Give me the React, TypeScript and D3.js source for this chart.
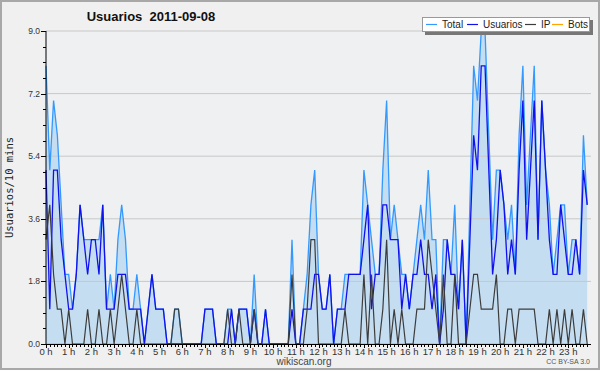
import * as d3 from "d3";

// Valores cada 10 minutos (144 puntos, 0h - 23h50)
const TOTAL = [
  8, 5, 7, 6, 4, 2, 2, 1, 2, 4, 3, 3, 3, 3, 3, 4, 1, 2, 1, 3, 4, 3, 1, 1,
  2, 1, 0, 1, 2, 1, 1, 1, 0, 0, 1, 1, 0, 0, 0, 0, 0, 0, 1, 1, 1, 0, 0, 0,
  1, 1, 0, 1, 1, 1, 0, 2, 0, 0, 1, 0, 0, 0, 0, 0, 0, 3, 0, 0, 1, 2, 4, 5,
  2, 1, 1, 2, 0, 1, 1, 2, 2, 2, 2, 2, 5, 4, 3, 2, 2, 5, 7, 3, 4, 3, 2, 2,
  1, 2, 3, 4, 3, 5, 3, 3, 0, 3, 3, 2, 4, 1, 3, 0, 4, 8, 7, 9, 9, 6, 3, 5,
  5, 4, 3, 4, 2, 6, 8, 4, 6, 8, 3, 7, 5, 4, 2, 3, 4, 4, 2, 3, 3, 2, 6, 4
];

const USUARIOS = [
  5, 1, 5, 5, 3, 2, 1, 1, 2, 4, 3, 2, 3, 3, 2, 4, 1, 1, 1, 2, 2, 2, 1, 1,
  1, 1, 0, 1, 2, 1, 1, 1, 0, 0, 0, 0, 0, 0, 0, 0, 0, 0, 1, 1, 1, 0, 0, 0,
  0, 1, 0, 1, 1, 1, 0, 1, 0, 0, 1, 0, 0, 0, 0, 0, 0, 1, 0, 0, 1, 1, 1, 2,
  2, 1, 1, 2, 0, 1, 1, 1, 2, 2, 2, 2, 3, 4, 1, 2, 2, 4, 4, 3, 3, 3, 1, 2,
  1, 2, 2, 3, 2, 2, 1, 2, 0, 1, 3, 2, 2, 1, 3, 0, 3, 6, 5, 8, 8, 5, 2, 3,
  5, 4, 2, 3, 2, 5, 7, 3, 5, 7, 3, 7, 5, 3, 2, 2, 4, 3, 2, 2, 3, 2, 5, 4
];

const IP = [
  3, 4, 2, 1, 1, 0, 1, 0, 0, 0, 0, 1, 0, 0, 1, 0, 0, 1, 0, 1, 2, 1, 0, 0,
  1, 0, 0, 0, 0, 0, 0, 0, 0, 0, 1, 1, 0, 0, 0, 0, 0, 0, 0, 0, 0, 0, 0, 0,
  1, 0, 0, 1, 0, 0, 0, 1, 0, 0, 0, 0, 0, 0, 0, 0, 0, 2, 0, 0, 0, 1, 3, 3,
  0, 0, 0, 0, 0, 0, 0, 1, 0, 0, 0, 0, 2, 0, 2, 0, 0, 1, 3, 0, 1, 0, 1, 0,
  0, 0, 1, 1, 1, 3, 2, 1, 0, 2, 0, 0, 2, 0, 0, 0, 1, 2, 2, 1, 1, 1, 1, 2,
  0, 0, 1, 1, 0, 1, 1, 1, 1, 1, 0, 0, 0, 1, 0, 1, 0, 1, 0, 1, 0, 0, 1, 0
];

const BOTS = [
  0, 0, 0, 0, 0, 0, 0, 0, 0, 0, 0, 0, 0, 0, 0, 0, 0, 0, 0, 0, 0, 0, 0, 0,
  0, 0, 0, 0, 0, 0, 0, 0, 0, 0, 0, 0, 0, 0, 0, 0, 0, 0, 0, 0, 0, 0, 0, 0,
  0, 0, 0, 0, 0, 0, 0, 0, 0, 0, 0, 0, 0, 0, 0, 0, 0, 0, 0, 0, 0, 0, 0, 0,
  0, 0, 0, 0, 0, 0, 0, 0, 0, 0, 0, 0, 0, 0, 0, 0, 0, 0, 0, 0, 0, 0, 0, 0,
  0, 0, 0, 0, 0, 0, 0, 0, 0, 0, 0, 0, 0, 0, 0, 0, 0, 0, 0, 0, 0, 0, 0, 0,
  0, 0, 0, 0, 0, 0, 0, 0, 0, 0, 0, 0, 0, 0, 0, 0, 0, 0, 0, 0, 0, 0, 0, 0
];

const HORAS = [
  "0 h", "1 h", "2 h", "3 h", "4 h", "5 h", "6 h", "7 h", "8 h", "9 h", "10 h", "11 h",
  "12 h", "13 h", "14 h", "15 h", "16 h", "17 h", "18 h", "19 h", "20 h", "21 h", "22 h", "23 h"
];

const Y_TICKS = [0, 1.8, 3.6, 5.4, 7.2, 9.0];

const SERIES = [
  { nombre: "Total", color: "#3399ff" },
  { nombre: "Usuarios", color: "#1111ee" },
  { nombre: "IP", color: "#3c3c3c" },
  { nombre: "Bots", color: "#ffa500" }
];

const W = 600;
const H = 370;
const margin = { left: 46, right: 9, top: 31, bottom: 26 };

export default function App() {
  const x0 = margin.left;
  const x1 = W - margin.right;
  const y0 = H - margin.bottom;
  const y1 = margin.top;

  const x = d3.scaleLinear().domain([0, 144]).range([x0, x1]);
  const y = d3.scaleLinear().domain([0, 9]).range([y0, y1]);

  const linea = d3
    .line<number>()
    .x((_, i) => x(i))
    .y((d) => y(d));

  const area = d3
    .area<number>()
    .x((_, i) => x(i))
    .y0(y(0))
    .y1((d) => y(d));

  const font = "'Liberation Sans', Arial, sans-serif";
  const minorY = d3.range(0, 9.001, 0.45);
  const minorX = d3.range(0, 144);

  // leyenda: posiciones de cada entrada
  const leyenda = [
    { lx: 426, tx: 442 },
    { lx: 467, tx: 483 },
    { lx: 525, tx: 541 },
    { lx: 552, tx: 568 }
  ];

  return (
    <div style={{ position: "absolute", left: 0, top: 0 }}>
      <svg width={W} height={H} style={{ display: "block" }}>
        <rect x={0} y={0} width={W} height={H} fill="#f0f0f0" />
        <rect x={1} y={1} width={W - 2} height={H - 2} fill="none" stroke="#a8a8a8" strokeWidth={2} />

        {/* area del grafico */}
        <rect x={x0} y={y1} width={x1 - x0} height={y0 - y1} fill="#eef0f2" />

        <path d={area(TOTAL) ?? ""} fill="#c5ddf1" />

        {/* grilla */}
        {Y_TICKS.filter((t) => t > 0).map((t) => (
          <line key={t} x1={x0} x2={x1} y1={y(t)} y2={y(t)} stroke="#c8c8c8" strokeWidth={1} />
        ))}

        <path d={linea(BOTS) ?? ""} fill="none" stroke={SERIES[3].color} strokeWidth={1.2} />
        <path d={linea(TOTAL) ?? ""} fill="none" stroke={SERIES[0].color} strokeWidth={1.3} />
        <path d={linea(USUARIOS) ?? ""} fill="none" stroke={SERIES[1].color} strokeWidth={1.3} />
        <path d={linea(IP) ?? ""} fill="none" stroke={SERIES[2].color} strokeWidth={1.2} />

        {/* eje Y */}
        <line x1={x0} x2={x0} y1={y1} y2={y0} stroke="#000" strokeWidth={1} />
        {minorY.map((t, i) => (
          <line
            key={"my" + i}
            x1={x0 - (i % 4 === 0 ? 5 : 3)}
            x2={x0}
            y1={Math.round(y(t)) + 0.5}
            y2={Math.round(y(t)) + 0.5}
            stroke="#000"
          />
        ))}
        {Y_TICKS.map((t) => (
          <text
            key={"yt" + t}
            x={x0 - 6}
            y={y(t) + 3}
            textAnchor="end"
            fontFamily={font}
            fontSize={8.5}
            fill="#333"
          >
            {t.toFixed(1)}
          </text>
        ))}
        <text
          transform={`translate(13,${(y0 + y1) / 2}) rotate(-90)`}
          textAnchor="middle"
          fontFamily="'DejaVu Sans Mono', monospace"
          fontSize={10.5}
          fill="#222"
        >
          Usuarios/10 mins
        </text>

        {/* eje X */}
        <line x1={x0} x2={x1} y1={y0 + 0.5} y2={y0 + 0.5} stroke="#000" strokeWidth={1} />
        {minorX.map((i) => (
          <line
            key={"mx" + i}
            x1={Math.round(x(i)) + 0.5}
            x2={Math.round(x(i)) + 0.5}
            y1={y0}
            y2={y0 + (i % 6 === 0 ? 4 : 3)}
            stroke="#000"
          />
        ))}
        {HORAS.map((h, i) => (
          <text
            key={h}
            x={x(i * 6)}
            y={y0 + 11}
            textAnchor="middle"
            fontFamily={font}
            fontSize={9.5}
            fill="#333"
          >
            {h}
          </text>
        ))}

        {/* titulo */}
        <text
          x={151}
          y={21}
          textAnchor="middle"
          fontFamily={font}
          fontWeight="bold"
          fontSize={13}
          fill="#111"
          style={{ whiteSpace: "pre" }}
        >
          {"Usuarios  2011-09-08"}
        </text>

        {/* leyenda */}
        <rect x={425} y={20} width={168} height={15} fill="#777" />
        <rect x={422.5} y={17.5} width={167} height={14} fill="#fff" stroke="#999" />
        {SERIES.map((s, i) => (
          <g key={s.nombre}>
            <line x1={leyenda[i].lx} x2={leyenda[i].lx + 11} y1={24.5} y2={24.5} stroke={s.color} strokeWidth={1.2} />
            <text x={leyenda[i].tx} y={28} fontFamily={font} fontSize={10} fill="#222">
              {s.nombre}
            </text>
          </g>
        ))}

        {/* pie */}
        <text x={304} y={365} textAnchor="middle" fontFamily={font} fontSize={10} fill="#444">
          wikiscan.org
        </text>
        <text x={590} y={364} textAnchor="end" fontFamily={font} fontSize={7} fill="#555">
          CC BY-SA 3.0
        </text>
      </svg>
    </div>
  );
}
